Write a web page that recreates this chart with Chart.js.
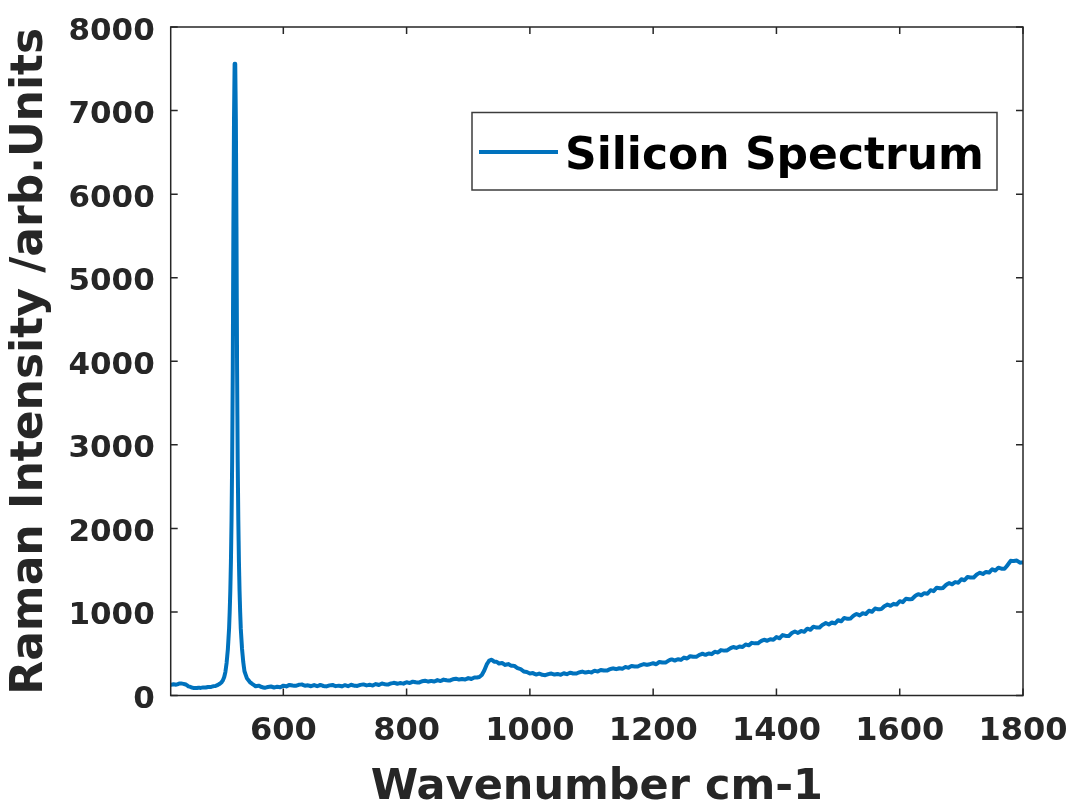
<!DOCTYPE html>
<html>
<head>
<meta charset="utf-8">
<script src="https://cdn.jsdelivr.net/npm/chart.js@4"></script>
<style>
  html, body { margin: 0; padding: 0; background: #fff; }
  #wrap { width: 1073px; height: 804px; }
</style>
</head>
<body>
<div id="wrap"><canvas id="chart"></canvas></div>
<script>
// Raman shift (cm-1) and intensity, noise included
const wavenumber = [
    418, 422, 426, 430, 434, 438, 442, 446, 450, 454, 458, 462, 466, 470, 474, 478, 482, 486, 490, 494,
    497, 500, 502, 504, 506, 508, 510, 512, 513, 514, 515, 516, 517, 518, 519, 520, 521, 522, 523, 524,
    525, 526, 527, 528, 529, 530, 531, 533, 535, 537, 541, 546,
    550, 555, 560, 565, 570, 575, 580, 585, 590, 595,
    600, 605, 610, 615, 620, 625, 630, 635, 640, 645,
    650, 655, 660, 665, 670, 675, 680, 685, 690, 695,
    700, 705, 710, 715, 720, 725, 730, 735, 740, 745,
    750, 755, 760, 765, 770, 775, 780, 785, 790, 795,
    800, 805, 810, 815, 820, 825, 830, 835, 840, 845,
    850, 855, 860, 865, 870, 875, 880, 885, 890, 895,
    900, 905, 910, 914, 918, 922, 926, 930, 934, 938,
    942, 946, 950, 955, 960, 965, 970, 975, 980, 985,
    990, 995, 1000, 1005, 1010, 1015, 1020, 1025, 1030, 1035,
    1040, 1045, 1050, 1055, 1060, 1065, 1070, 1075, 1080, 1085,
    1090, 1095, 1100, 1105, 1110, 1115, 1120, 1125, 1130, 1135,
    1140, 1145, 1150, 1155, 1160, 1165, 1170, 1175, 1180, 1185,
    1190, 1195, 1200, 1205, 1210, 1215, 1220, 1225, 1230, 1235,
    1240, 1245, 1250, 1255, 1260, 1265, 1270, 1275, 1280, 1285,
    1290, 1295, 1300, 1305, 1310, 1315, 1320, 1325, 1330, 1335,
    1340, 1345, 1350, 1355, 1360, 1365, 1370, 1375, 1380, 1385,
    1390, 1395, 1400, 1405, 1410, 1415, 1420, 1425, 1430, 1435,
    1440, 1445, 1450, 1455, 1460, 1465, 1470, 1475, 1480, 1485,
    1490, 1495, 1500, 1505, 1510, 1515, 1520, 1525, 1530, 1535,
    1540, 1545, 1550, 1555, 1560, 1565, 1570, 1575, 1580, 1585,
    1590, 1595, 1600, 1605, 1610, 1615, 1620, 1625, 1630, 1635,
    1640, 1645, 1650, 1655, 1660, 1665, 1670, 1675, 1680, 1685,
    1690, 1695, 1700, 1705, 1710, 1715, 1720, 1725, 1730, 1735,
    1740, 1745, 1750, 1755, 1760, 1765, 1770, 1775, 1780, 1785,
    1790, 1795, 1800
];
const intensity = [
    128, 134, 129, 140, 145, 139, 131, 110, 101, 90, 89, 93, 91, 97, 95, 102, 101, 110, 114, 127,
    141, 160, 182, 218, 280, 390, 550, 800, 1000, 1250, 1600, 2100, 2800, 3900, 5600, 6900, 7560, 7560, 6900, 5600,
    3900, 2800, 2100, 1600, 1250, 1000, 800, 560, 400, 290, 205, 158,
    136, 111, 118, 101, 92, 102, 108, 96, 105, 99,
    118, 109, 127, 119, 116, 128, 132, 117, 122, 111,
    125, 111, 126, 114, 109, 121, 126, 112, 118, 109,
    124, 112, 128, 118, 114, 127, 133, 121, 128, 120,
    137, 126, 143, 134, 131, 145, 152, 141, 149, 142,
    159, 149, 166, 158, 155, 170, 177, 166, 175, 167,
    184, 173, 190, 182, 179, 194, 201, 190, 198, 191,
    208, 198, 216, 214, 222, 246, 300, 372, 418, 428,
    405, 404, 382, 388, 366, 376, 356, 354, 327, 316,
    288, 282, 264, 268, 251, 262, 248, 243, 256, 263,
    250, 257, 248, 266, 255, 273, 264, 262, 277, 286,
    274, 283, 276, 296, 287, 306, 299, 298, 315, 325,
    315, 326, 320, 341, 333, 353, 347, 347, 364, 376,
    366, 376, 386, 374, 402, 394, 394, 418, 432, 418,
    434, 426, 454, 443, 471, 463, 463, 487, 500, 487,
    503, 495, 523, 514, 543, 537, 539, 564, 580, 569,
    586, 580, 610, 600, 630, 624, 625, 651, 667, 655,
    673, 667, 699, 685, 723, 713, 713, 747, 766, 749,
    772, 762, 800, 786, 824, 814, 814, 847, 867, 850,
    873, 863, 901, 888, 928, 919, 920, 955, 975, 959,
    984, 975, 1014, 1002, 1041, 1032, 1034, 1068, 1088, 1073,
    1097, 1088, 1128, 1117, 1158, 1151, 1155, 1191, 1213, 1199,
    1225, 1218, 1260, 1249, 1290, 1283, 1286, 1322, 1345, 1331,
    1357, 1350, 1391, 1379, 1419, 1411, 1413, 1448, 1469, 1454,
    1479, 1471, 1511, 1495, 1530, 1517, 1517, 1560, 1612, 1610,
    1615, 1590, 1592
];

const xTicks = [600, 800, 1000, 1200, 1400, 1600, 1800];
const yTicks = [0, 1000, 2000, 3000, 4000, 5000, 6000, 7000, 8000];

const seriesLabel = "Silicon Spectrum";
const xTitle = "Wavenumber cm-1";
const yTitle = "Raman Intensity /arb.Units";

const lineColor = "#0072BD";
const axisColor = "#262626";

// MATLAB style box: frame with inward ticks on all four sides, plus the legend box
const boxPlugin = {
    id: "box",
    afterDraw(chart) {
        const ctx = chart.ctx;
        const a = chart.chartArea;
        const x = chart.scales.x, y = chart.scales.y;
        const tick = 7;

        ctx.save();
        ctx.strokeStyle = axisColor;
        ctx.lineWidth = 1.5;
        ctx.strokeRect(a.left, a.top, a.right - a.left, a.bottom - a.top);

        ctx.beginPath();
        xTicks.forEach(v => {
            const px = x.getPixelForValue(v);
            ctx.moveTo(px, a.bottom); ctx.lineTo(px, a.bottom - tick);
            ctx.moveTo(px, a.top); ctx.lineTo(px, a.top + tick);
        });
        yTicks.forEach(v => {
            const py = y.getPixelForValue(v);
            ctx.moveTo(a.left, py); ctx.lineTo(a.left + tick, py);
            ctx.moveTo(a.right, py); ctx.lineTo(a.right - tick, py);
        });
        ctx.stroke();

        // legend, top right inside the axes
        const ds = chart.data.datasets[0];
        const bw = 525, bh = 77.5;
        const bx = a.right - 26 - bw, by = a.top + 85.5;
        ctx.fillStyle = "#fff";
        ctx.fillRect(bx, by, bw, bh);
        ctx.strokeStyle = "#3c3c3c";
        ctx.lineWidth = 1.5;
        ctx.strokeRect(bx, by, bw, bh);

        ctx.strokeStyle = ds.borderColor;
        ctx.lineWidth = 4;
        ctx.beginPath();
        ctx.moveTo(bx + 7, by + 39.5);
        ctx.lineTo(bx + 86, by + 39.5);
        ctx.stroke();

        ctx.fillStyle = "#000";
        ctx.font = "bold 44px 'DejaVu Sans'";
        ctx.textBaseline = "alphabetic";
        ctx.textAlign = "left";
        ctx.fillText(ds.label, bx + 93, by + 56.5);
        ctx.restore();
    }
};

function noPad(s) {
    s.paddingTop = 0; s.paddingBottom = 0;
    s.paddingLeft = 0; s.paddingRight = 0;
}

new Chart(document.getElementById("chart"), {
    type: "line",
    data: {
        datasets: [{
            label: seriesLabel,
            data: wavenumber.map((w, i) => ({ x: w, y: intensity[i] })),
            borderColor: lineColor,
            borderWidth: 4,
            borderJoinStyle: "round",
            borderCapStyle: "round",
            pointRadius: 0,
            tension: 0.001,
            fill: false
        }]
    },
    options: {
        responsive: true,
        maintainAspectRatio: false,
        animation: false,
        events: [],
        layout: { padding: { top: 27, right: 50, left: 0, bottom: 0 } },
        plugins: {
            legend: { display: false },
            tooltip: { enabled: false }
        },
        scales: {
            x: {
                type: "linear",
                min: 417.3,
                max: 1800,
                afterBuildTicks: s => { s.ticks = xTicks.map(v => ({ value: v })); },
                afterFit: s => { s.height = 108.5; noPad(s); },
                grid: { display: false, drawTicks: false },
                border: { display: false },
                ticks: {
                    padding: 17,
                    maxRotation: 0,
                    autoSkip: false,
                    color: axisColor,
                    callback: v => String(v),
                    font: { family: "DejaVu Sans", weight: "bold", size: 32 }
                },
                title: {
                    display: true,
                    text: xTitle,
                    color: axisColor,
                    padding: 0,
                    font: { family: "DejaVu Sans", weight: "bold", size: 43, lineHeight: 0.74 }
                }
            },
            y: {
                min: 0,
                max: 8000,
                afterBuildTicks: s => { s.ticks = yTicks.map(v => ({ value: v })); },
                afterFit: s => { s.width = 170.7; noPad(s); },
                grid: { display: false, drawTicks: false },
                border: { display: false },
                ticks: {
                    padding: 16,
                    labelOffset: 4.5,
                    autoSkip: false,
                    color: axisColor,
                    callback: v => String(v),
                    font: { family: "DejaVu Sans", weight: "bold", size: 31 }
                },
                title: {
                    display: true,
                    text: yTitle,
                    color: axisColor,
                    padding: { top: 4.2, bottom: 0 },
                    font: { family: "DejaVu Sans", weight: "bold", size: 44 }
                }
            }
        }
    },
    plugins: [boxPlugin]
});
</script>
</body>
</html>
